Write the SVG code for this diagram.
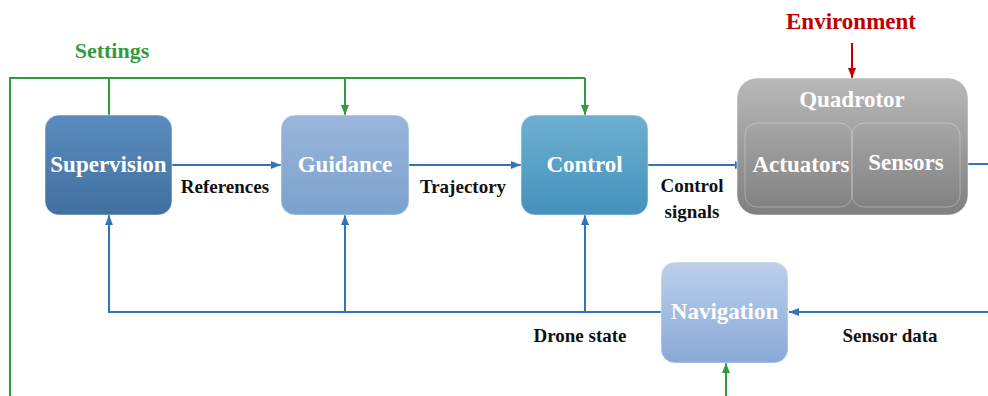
<svg xmlns="http://www.w3.org/2000/svg" width="988" height="396" viewBox="0 0 988 396">
<style>
.box{stroke:#ffffff;stroke-opacity:0.5;stroke-width:1}
.bl{font-family:"Liberation Serif","DejaVu Serif",serif;font-weight:bold;font-size:23px;fill:#ffffff;text-anchor:middle}
.lb{font-family:"Liberation Serif","DejaVu Serif",serif;font-weight:bold;font-size:19px;fill:#111111;text-anchor:middle}
.blue{stroke:#3374b7;stroke-width:2;fill:none}
.green{stroke:#329a3c;stroke-width:2;fill:none}
.red{stroke:#c00000;stroke-width:2;fill:none}
</style>
<defs>
<linearGradient id="gSup" x1="0" y1="0" x2="0" y2="1"><stop offset="0" stop-color="#5a8cbf"/><stop offset="1" stop-color="#41709e"/></linearGradient>
<linearGradient id="gGui" x1="0" y1="0" x2="0" y2="1"><stop offset="0" stop-color="#9ab6da"/><stop offset="1" stop-color="#7aa1cd"/></linearGradient>
<linearGradient id="gCon" x1="0" y1="0" x2="0" y2="1"><stop offset="0" stop-color="#6eafd0"/><stop offset="1" stop-color="#4392bd"/></linearGradient>
<linearGradient id="gNav" x1="0" y1="0" x2="0" y2="1"><stop offset="0" stop-color="#bdd0ea"/><stop offset="1" stop-color="#88a9d8"/></linearGradient>
<linearGradient id="gQ" x1="0" y1="0" x2="0" y2="1"><stop offset="0" stop-color="#b9b9b9"/><stop offset="1" stop-color="#7f7f7f"/></linearGradient>
<marker id="aB" viewBox="0 0 10 10" refX="10" refY="5" markerWidth="5" markerHeight="5" orient="auto"><path d="M0,1 L10,5 L0,9 z" fill="#3374b7"/></marker>
<marker id="aG" viewBox="0 0 10 10" refX="10" refY="5" markerWidth="5" markerHeight="5" orient="auto"><path d="M0,1 L10,5 L0,9 z" fill="#329a3c"/></marker>
<marker id="aR" viewBox="0 0 10 10" refX="10" refY="5" markerWidth="5" markerHeight="5" orient="auto"><path d="M0,1 L10,5 L0,9 z" fill="#c00000"/></marker>
</defs>

<g id="connectors">
<path class="green" d="M10,396 V78 H585"/>
<path class="green" d="M109,78 V115"/>
<path class="green" d="M345,78 V115" marker-end="url(#aG)"/>
<path class="green" d="M585,78 V115" marker-end="url(#aG)"/>
<path class="green" d="M726,396 V363" marker-end="url(#aG)"/>
<path class="red" d="M852,43 V78" marker-end="url(#aR)"/>
<path class="blue" d="M172,165 H281" marker-end="url(#aB)"/>
<path class="blue" d="M409,165 H521" marker-end="url(#aB)"/>
<path class="blue" d="M648,165 H745" marker-end="url(#aB)"/>
<path class="blue" d="M960,164 H988"/>
<path class="blue" d="M988,312 H789" marker-end="url(#aB)"/>
<path class="blue" d="M661,312 H109 V215" marker-end="url(#aB)"/>
<path class="blue" d="M345,312 V215" marker-end="url(#aB)"/>
<path class="blue" d="M585,312 V215" marker-end="url(#aB)"/>
</g>

<g id="labels">
<text x="112" y="58" font-family="Liberation Serif, DejaVu Serif, serif" font-weight="bold" font-size="22" fill="#329a3c" text-anchor="middle">Settings</text>
<text x="851" y="29" font-family="Liberation Serif, DejaVu Serif, serif" font-weight="bold" font-size="23" fill="#c00000" text-anchor="middle">Environment</text>
<text class="lb" x="225" y="193">References</text>
<text class="lb" x="463" y="193">Trajectory</text>
<text class="lb" x="692" y="192">Control</text>
<text class="lb" x="692" y="218">signals</text>
<text class="lb" x="580" y="342">Drone state</text>
<text class="lb" x="890" y="342">Sensor data</text>
</g>

<g id="supervision">
<rect class="box" x="45" y="115" width="127" height="100" rx="14" fill="url(#gSup)"/>
<text class="bl" x="108.5" y="172">Supervision</text>
</g>
<g id="guidance">
<rect class="box" x="281" y="115" width="128" height="100" rx="14" fill="url(#gGui)"/>
<text class="bl" x="345" y="172">Guidance</text>
</g>
<g id="control">
<rect class="box" x="521" y="115" width="127" height="100" rx="14" fill="url(#gCon)"/>
<text class="bl" x="584.5" y="172">Control</text>
</g>
<g id="quadrotor">
<rect class="box" x="737" y="78" width="231" height="137" rx="20" fill="url(#gQ)"/>
<text class="bl" x="852" y="107" font-size="22">Quadrotor</text>
<g id="actuators">
<rect x="745" y="123" width="107" height="84" rx="12" fill="none" stroke="#ffffff" stroke-opacity="0.3"/>
<text class="bl" x="801" y="172" font-size="20">Actuators</text>
</g>
<g id="sensors">
<rect x="852" y="123" width="108" height="84" rx="12" fill="none" stroke="#ffffff" stroke-opacity="0.3"/>
<text class="bl" x="906" y="170" font-size="20">Sensors</text>
</g>
</g>
<g id="navigation">
<rect class="box" x="661" y="262" width="127" height="101" rx="14" fill="url(#gNav)"/>
<text class="bl" x="724.5" y="319">Navigation</text>
</g>
</svg>
